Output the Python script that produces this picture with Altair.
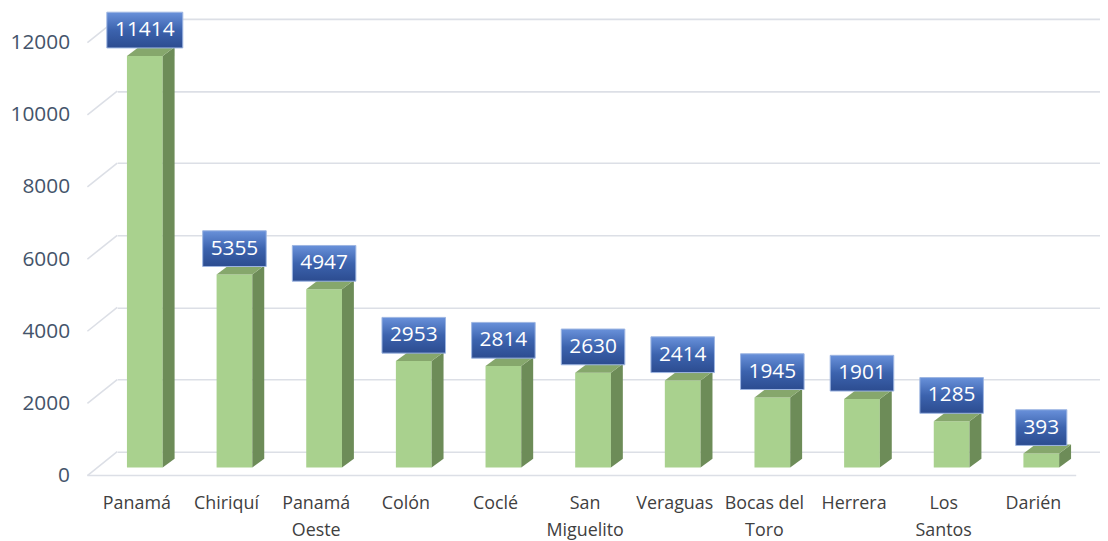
import altair as alt
import pandas as pd

categories = ["Panamá", "Chiriquí", "Panamá Oeste", "Colón", "Coclé", "San Miguelito",
              "Veraguas", "Bocas del Toro", "Herrera", "Los Santos", "Darién"]
label_lines = ["Panamá", "Chiriquí", "Panamá\nOeste", "Colón", "Coclé", "San\nMiguelito",
               "Veraguas", "Bocas del\nToro", "Herrera", "Los\nSantos", "Darién"]
values = [11414, 5355, 4947, 2953, 2814, 2630, 2414, 1945, 1901, 1285, 393]
y_ticks = [0, 2000, 4000, 6000, 8000, 10000, 12000]

df = pd.DataFrame({
    "cat": categories,
    "label": label_lines,
    "value": values,
    "idx": list(range(len(categories))),
})
ticks_df = pd.DataFrame({"t": y_ticks})

W, H = 990, 436
XDOM = [-0.308, 10.655]
YDOM = [0, 12000]
PX_X = 90.3           # px per category step
PX_Y = 12000 / H      # value units per px
FRONT = 16            # px shift of the bar front plane below the back wall
DEPTH_X = 12 / PX_X   # side depth in index units
DEPTH_Y = 9 * PX_Y    # depth rise in value units
HALF = 18 / PX_X      # half bar width in index units

xs = alt.Scale(domain=XDOM, nice=False, zero=False)
ys = alt.Scale(domain=YDOM, nice=False)
yaxis = alt.Axis(
    values=y_ticks, grid=True, gridColor="#dcdfe6", gridWidth=1.6,
    domain=False, ticks=False, labelOffset=24, labelPadding=48, format="d",
    labelFont="Open Sans", labelFontSize=21, labelColor="#44546a", title=None)


def Y(field):
    return alt.Y(field, scale=ys, axis=yaxis, title=None)


def X(field):
    return alt.X(field, scale=xs, axis=None)


base = alt.Chart(df)

# left-wall diagonals (front point 30px left / 24px below the back gridline)
diag = alt.Chart(ticks_df).transform_calculate(k="[0, 1]").transform_flatten(["k"]).transform_calculate(
    dxv=f"datum.k == 0 ? {XDOM[0] - 30 / PX_X} : {XDOM[0]}",
    dyv=f"datum.k == 0 ? datum.t - {24 * PX_Y} : datum.t",
).mark_line(color="#dcdfe6", strokeWidth=1.6).encode(
    x=X("dxv:Q"),
    y=Y("dyv:Q"),
    detail="t:N",
)

# front floor edge
floor = alt.Chart(ticks_df).transform_filter("datum.t == 0").transform_calculate(
    k="[0, 1]").transform_flatten(["k"]).transform_calculate(
    fx=f"datum.k == 0 ? {XDOM[0] - 30 / PX_X} : {XDOM[0] + 966 / PX_X}",
    fy=f"datum.t - {24 * PX_Y}",
).mark_line(color="#dcdfe6", strokeWidth=1.6).encode(
    x=X("fx:Q"),
    y=Y("fy:Q"),
)

# front faces
front = base.transform_calculate(
    x1=f"datum.idx - {HALF}", x2=f"datum.idx + {HALF}", y0="0"
).mark_rect(color="#a9d18e", yOffset=FRONT, y2Offset=FRONT).encode(
    x=X("x1:Q"), x2="x2:Q",
    y=Y("y0:Q"), y2="value:Q",
)

# side faces
side = base.transform_calculate(k="[0, 1]").transform_flatten(["k"]).transform_calculate(
    sx=f"datum.idx + {HALF} + datum.k * {DEPTH_X}",
    ylo=f"datum.k * {DEPTH_Y}",
    yhi=f"datum.value + datum.k * {DEPTH_Y}",
).mark_area(color="#6d8c58", yOffset=FRONT, y2Offset=FRONT).encode(
    x=X("sx:Q"),
    y=Y("ylo:Q"), y2="yhi:Q",
    detail="cat:N",
)

# top faces
top = base.transform_calculate(k="[0, 1, 2, 3]").transform_flatten(["k"]).transform_calculate(
    tx=f"datum.idx - {HALF} + (datum.k == 0 ? 0 : datum.k == 1 ? {DEPTH_X} : datum.k == 2 ? {2*HALF} : {2*HALF + DEPTH_X})",
    ylo=f"datum.k == 3 ? datum.value + {DEPTH_Y} : datum.value",
    yhi=f"datum.k == 0 ? datum.value : datum.value + {DEPTH_Y}",
).mark_area(color="#86a76c", yOffset=FRONT, y2Offset=FRONT).encode(
    x=X("tx:Q"),
    y=Y("ylo:Q"), y2="yhi:Q",
    detail="cat:N",
)

grad = alt.Gradient(
    gradient="linear",
    stops=[alt.GradientStop(color="#6991da", offset=0),
           alt.GradientStop(color="#3c63ae", offset=0.5),
           alt.GradientStop(color="#2c4c90", offset=1)],
    x1=0, x2=0, y1=0, y2=1,
)

boxes = base.transform_calculate(
    hw=f"(12.5 * length(toString(datum.value)) + 14) / 2 / {PX_X}",
    bx1="datum.idx - datum.hw", bx2="datum.idx + datum.hw",
).mark_rect(fill=grad, stroke="#9db5e2", strokeWidth=1,
            yOffset=FRONT - 8, y2Offset=FRONT - 8 - 36).encode(
    x=X("bx1:Q"), x2="bx2:Q",
    y=Y("value:Q"), y2="value:Q",
)

box_text = base.mark_text(color="white", font="Open Sans", fontSize=21,
                          baseline="middle", align="center",
                          yOffset=FRONT - 8 - 18).encode(
    x=X("idx:Q"),
    y=Y("value:Q"),
    text="value:Q",
)

cat_text = base.mark_text(color="#404040", font="Open Sans", fontSize=18,
                          baseline="alphabetic", align="center", dx=-8,
                          lineBreak="\n", lineHeight=27).encode(
    x=X("idx:Q"),
    y=alt.value(H + 58),
    text="label:N",
)

chart = alt.layer(diag, floor, front, side, top, boxes, box_text, cat_text).properties(
    width=W, height=H,
    background="white",
    autosize=alt.AutoSizeParams(type="none"),
    padding={"left": 110, "top": 9, "right": 0, "bottom": 88},
).configure_view(stroke="transparent", strokeOpacity=0).configure_axis(
    domain=False, ticks=False
).configure_axisX(grid=False)

chart.save("out.html", embed_options={"renderer": "svg", "actions": False})
